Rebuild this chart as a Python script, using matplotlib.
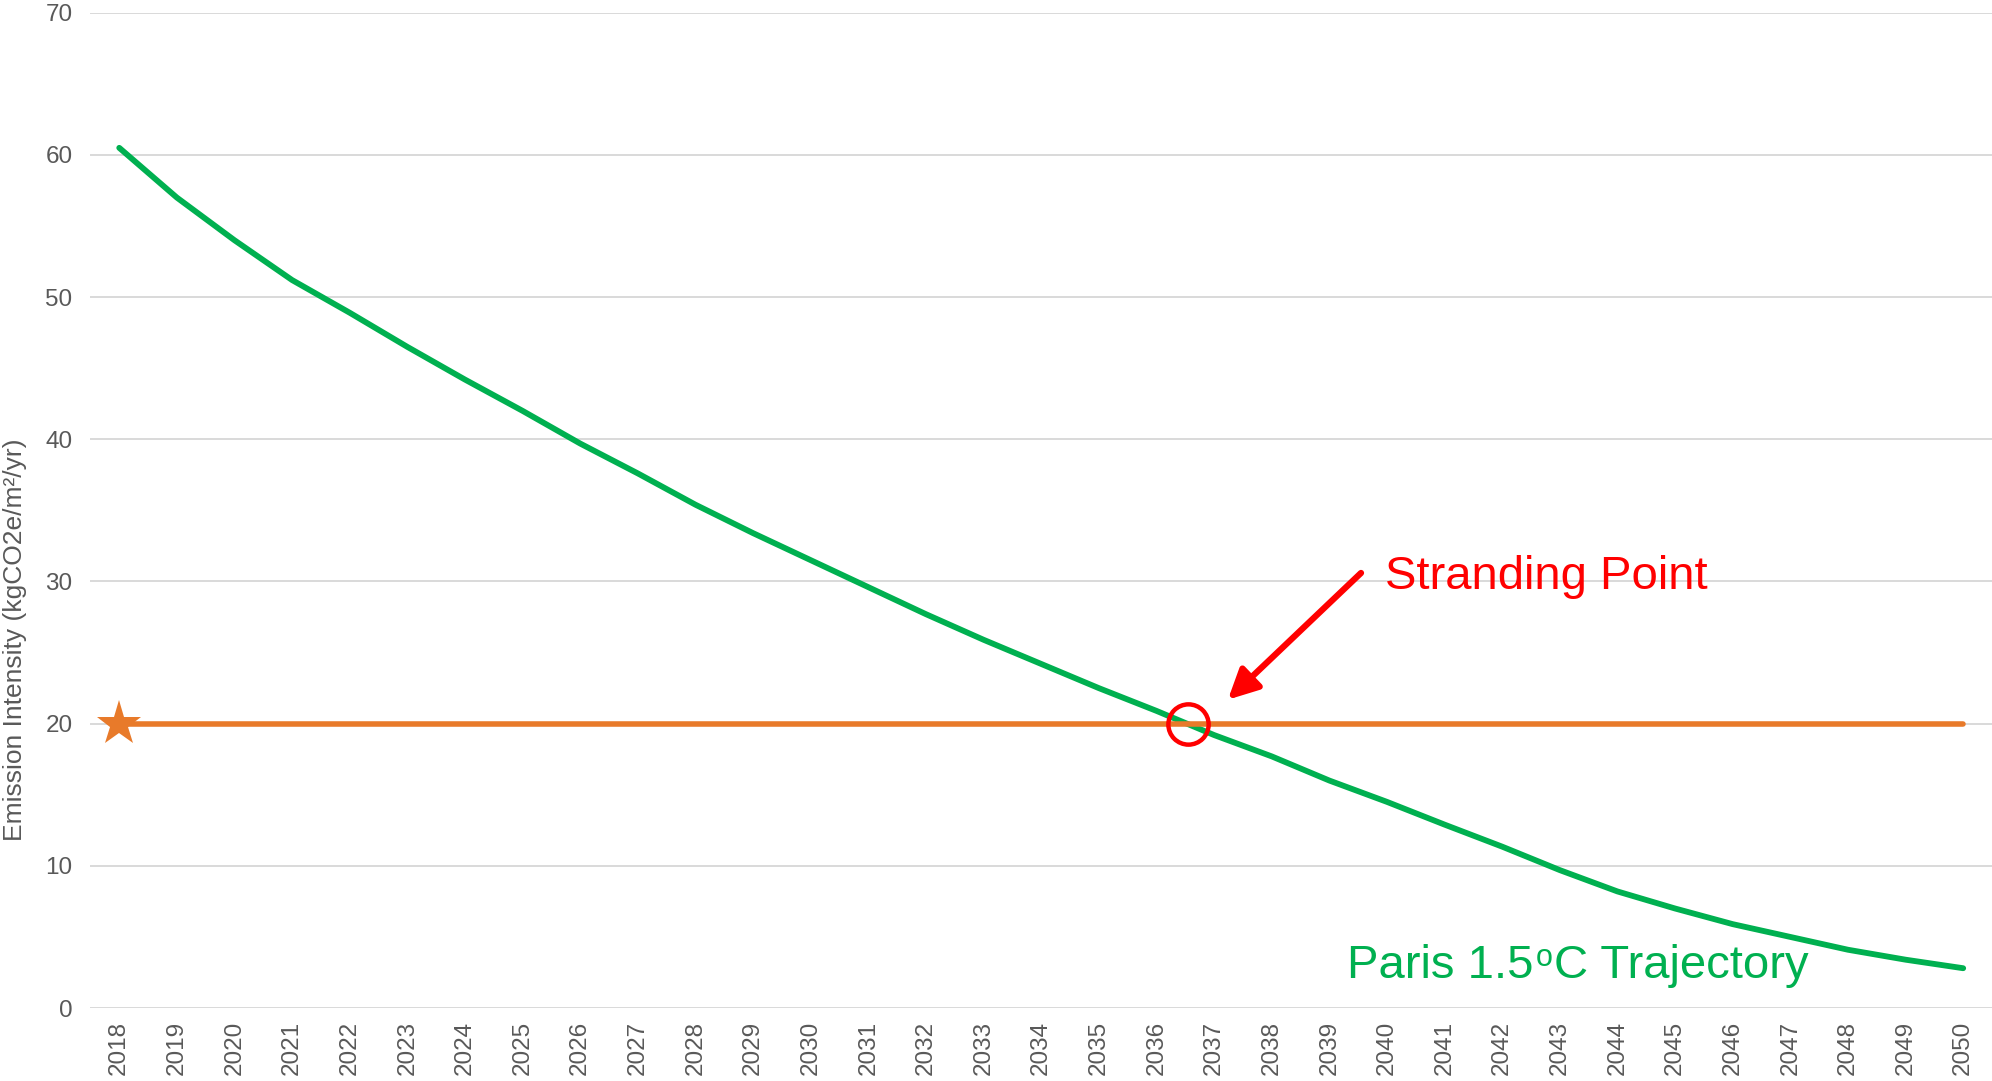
import matplotlib
matplotlib.use("Agg")
import matplotlib.pyplot as plt
from matplotlib.transforms import IdentityTransform

plt.rcParams['font.family'] = ['Liberation Sans', 'DejaVu Sans']

# ---- data ----
years = [str(y) for y in range(2018, 2051)]
paris_trajectory = [60.5, 57.0, 54.0, 51.2, 48.9, 46.5, 44.2, 42.0, 39.7, 37.6,
                    35.4, 33.4, 31.5, 29.6, 27.7, 25.9, 24.2, 22.5, 20.9, 19.2,
                    17.7, 16.0, 14.5, 12.9, 11.35, 9.7, 8.2, 7.0, 5.9, 5.0,
                    4.1, 3.4, 2.8]
asset_intensity = [20.0] * len(years)
y_ticks = [0, 10, 20, 30, 40, 50, 60, 70]
ylabel = "Emission Intensity (kgCO2e/m\u00b2/yr)"
stranding_x = 18.55   # category position of crossing (~2036.5)
stranding_y = 20.0

GREEN = '#00B050'
ORANGE = '#E87A2A'
GRAY = '#595959'
GRID = '#D9D9D9'
RED = '#FF0000'

fig = plt.figure(figsize=(19.92, 10.81), dpi=100)
ax = fig.add_axes([0.0454, 0.0675, 0.9546, 0.9207])

x = list(range(len(years)))
ax.plot(x, paris_trajectory, color=GREEN, lw=4.2, solid_capstyle='round',
        solid_joinstyle='round', zorder=3)
ax.plot(x, asset_intensity, color=ORANGE, lw=4.0, solid_capstyle='round',
        zorder=4)
ax.plot([x[0]], [asset_intensity[0]], marker='*', markersize=34,
        color=ORANGE, markeredgewidth=0, zorder=5)

# stranding point circle
ax.plot([stranding_x], [stranding_y], marker='o', markersize=29,
        markerfacecolor='none', markeredgecolor=RED, markeredgewidth=3.2,
        zorder=6)

# arrow
ax.annotate('', xy=(19.24, 21.69), xytext=(21.55, 30.6),
            arrowprops=dict(arrowstyle='-|>,head_length=0.9,head_width=0.45',
                            mutation_scale=20, lw=4.5, color=RED,
                            shrinkA=0, shrinkB=0),
            zorder=6)

ax.text(21.96, 29.44, 'Stranding Point', color=RED, fontsize=34,
        ha='left', va='baseline', zorder=7)

ax.set_xlim(-0.5, len(years) - 0.5)
ax.set_ylim(0, 70)
ax.set_yticks(y_ticks)
ax.set_yticklabels([str(v) for v in y_ticks])
ax.set_xticks(x)
ax.set_xticklabels(years, rotation=90)

ax.tick_params(axis='both', length=0, labelsize=17.5, colors=GRAY)
ax.tick_params(axis='y', pad=13)
ax.tick_params(axis='x', pad=9)
for s in ax.spines.values():
    s.set_visible(False)
ax.yaxis.grid(True, color=GRID, lw=1.4, zorder=0)
ax.xaxis.grid(False)
ax.set_axisbelow(True)

fig.text(15 / 1992, 1 - 640 / 1081, ylabel, rotation=90, ha='center',
         va='center', fontsize=19, color=GRAY)

# "Paris 1.5°C Trajectory" label with small raised 'o'
fig.canvas.draw()
renderer = fig.canvas.get_renderer()
label_x, label_y = 21.31, 2.09
t1 = ax.text(label_x, label_y, 'Paris 1.5', color=GREEN, fontsize=34,
             ha='left', va='baseline', zorder=7)
bb1 = t1.get_window_extent(renderer=renderer)
base_px = ax.transData.transform((label_x, label_y))[1]
t2 = fig.text(bb1.x1 + 2, base_px + 12, 'o', color=GREEN, fontsize=22,
              ha='left', va='baseline', transform=IdentityTransform())
bb2 = t2.get_window_extent(renderer=renderer)
fig.text(bb2.x1 + 1, base_px, 'C Trajectory', color=GREEN, fontsize=34,
         ha='left', va='baseline', transform=IdentityTransform())

fig.savefig('out.png', dpi=100, facecolor='white')
